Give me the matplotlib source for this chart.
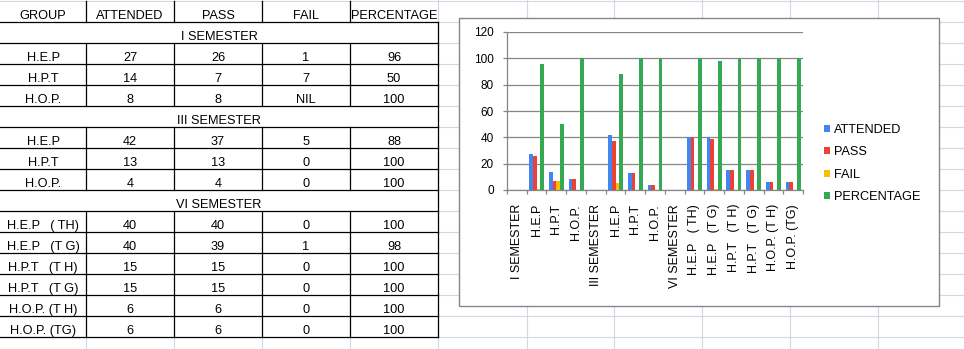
import numpy as np
import matplotlib
matplotlib.use("Agg")
import matplotlib.pyplot as plt
from matplotlib.patches import Rectangle

plt.rcParams['font.family'] = ['Liberation Sans', 'DejaVu Sans']

# table / chart data
columns = ["GROUP", "ATTENDED", "PASS", "FAIL", "PERCENTAGE"]
semesters = ["I SEMESTER", "III SEMESTER", "VI SEMESTER"]
groups = [["H.E.P", "H.P.T", "H.O.P."],
          ["H.E.P", "H.P.T", "H.O.P."],
          ["H.E.P   ( TH)", "H.E.P   (T G)", "H.P.T   (T H)", "H.P.T   (T G)",
           "H.O.P. (T H)", "H.O.P. (TG)"]]
attended = [[27, 14, 8], [42, 13, 4], [40, 40, 15, 15, 6, 6]]
passed = [[26, 7, 8], [37, 13, 4], [40, 39, 15, 15, 6, 6]]
failed = [[1, 7, None], [5, 0, 0], [0, 1, 0, 0, 0, 0]]   # None -> NIL
percentage = [[96, 50, 100], [88, 100, 100], [100, 98, 100, 100, 100, 100]]

series_names = ["ATTENDED", "PASS", "FAIL", "PERCENTAGE"]
series_colors = ["#4285F4", "#EA4335", "#FBBC04", "#34A853"]

W, H = 964, 349
fig = plt.figure(figsize=(W / 100, H / 100), dpi=100)
bg = fig.add_axes([0, 0, 1, 1])
bg.set_xlim(0, W)
bg.set_ylim(H, 0)
bg.axis("off")

# spreadsheet grid
grid_c = "#d0d7e5"
col_x = [86, 174, 262, 350, 438, 527, 614, 702, 790, 878]
for gx in col_x:
    bg.plot([gx, gx], [0, H], color=grid_c, lw=0.8, zorder=0)
for gy in range(1, H, 21):
    bg.plot([0, W], [gy, gy], color=grid_c, lw=0.8, zorder=0)

# table
tcols = [0, 86, 174, 262, 350, 438]
row_h = 21
y0 = 22
lc = "black"
lw = 0.9
fs = 9.2
bg.add_patch(Rectangle((0, 2), 438, 335, facecolor="white", edgecolor="none", zorder=1))
for cx in tcols[1:5]:
    bg.plot([cx, cx], [1, y0], color=lc, lw=lw, zorder=2)
for j, name in enumerate(columns):
    bg.text((tcols[j] + tcols[j + 1]) / 2, y0 - 3, name, ha="center",
            va="baseline", fontsize=fs, zorder=3)

y = y0
for s, sem in enumerate(semesters):
    bg.plot([0, 438], [y, y], color=lc, lw=lw, zorder=2)
    bg.text(219, y + row_h - 3, sem, ha="center", va="baseline", fontsize=fs, zorder=3)
    y += row_h
    for g, grp in enumerate(groups[s]):
        bg.plot([0, 438], [y, y], color=lc, lw=lw, zorder=2)
        for cx in tcols[1:5]:
            bg.plot([cx, cx], [y, y + row_h], color=lc, lw=lw, zorder=2)
        f = failed[s][g]
        cells = [grp, attended[s][g], passed[s][g], "NIL" if f is None else f,
                 percentage[s][g]]
        for j, v in enumerate(cells):
            bg.text((tcols[j] + tcols[j + 1]) / 2, y + row_h - 3, str(v),
                    ha="center", va="baseline", fontsize=fs, zorder=3)
        y += row_h
bg.plot([0, 438], [y, y], color=lc, lw=lw, zorder=2)
bg.plot([438, 438], [y0, y], color=lc, lw=lw, zorder=2)

# chart frame
bg.add_patch(Rectangle((459, 18), 480, 288, facecolor="white",
                       edgecolor="#868686", lw=1.0, zorder=4))

# chart data
labels = []
vals = [[], [], [], []]
for s, sem in enumerate(semesters):
    labels.append(sem)
    for k in range(4):
        vals[k].append(np.nan)
    for g, grp in enumerate(groups[s]):
        labels.append(grp)
        f = failed[s][g]
        vals[0].append(attended[s][g])
        vals[1].append(passed[s][g])
        vals[2].append(0 if f is None else f)
        vals[3].append(percentage[s][g])

n = len(labels)
x = np.arange(n)
ax = fig.add_axes([507 / W, (H - 190) / H, 296 / W, 158 / H], zorder=5)
bw = 0.19
for k in range(4):
    ax.bar(x + (k - 1.5) * bw, vals[k], bw, color=series_colors[k],
           label=series_names[k], zorder=3)

ax.set_xlim(-0.5, n - 0.5)
ax.set_ylim(0, 120)
ax.set_yticks(range(0, 121, 20))
ax.yaxis.grid(True, color="#868686", lw=0.9)
ax.set_axisbelow(True)
for sp in ["top", "right"]:
    ax.spines[sp].set_visible(False)
for sp in ["left", "bottom"]:
    ax.spines[sp].set_color("#868686")
    ax.spines[sp].set_linewidth(0.9)

ax.set_xticks(np.arange(-0.5, n, 1))
ax.set_xticklabels([])
ax.set_xticks(x, labels, minor=True, rotation=90)
ax.tick_params(axis="x", which="major", length=3, color="#868686", width=0.9)
ax.tick_params(axis="x", which="minor", length=0, pad=10, labelsize=9)
ax.tick_params(axis="y", length=3, color="#868686", width=0.9, pad=6.5,
               labelsize=8.5)

fig.legend(loc="center left", bbox_to_anchor=(824 / W, (H - 163.5) / H),
           frameon=False, fontsize=9.2, handlelength=0.47, handleheight=0.47,
           handletextpad=0.3, labelspacing=0.82, borderpad=0, borderaxespad=0)

fig.savefig("out.png", dpi=100)
